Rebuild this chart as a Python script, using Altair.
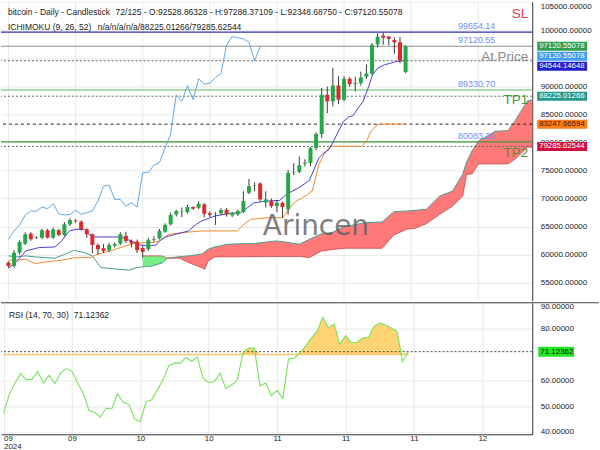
import altair as alt
import pandas as pd

# ---------------- data ----------------
opens = [58600, 58010, 60370, 61970, 63750, 63000, 63040, 64350, 63040, 64350,
         63520, 65410, 66100, 65880, 64530, 63640, 61740, 61160, 60800, 61600,
         61970, 63340, 62450, 62330, 61200, 61000, 62600, 62930, 64100, 65410,
         67190, 67700, 67600, 68480, 68360, 68950, 67400, 67100, 67370, 68010,
         67010, 67190, 67600, 71030, 72300, 72690, 69300, 69550, 68660, 69250,
         68080, 74570, 74750, 76200, 76350, 79010, 81500, 88490, 87300, 90140,
         87600, 91330, 90400, 90550, 91680, 92270, 97470, 99020, 98840, 98250,
         97830, 92528.86328]
highs = [58800, 60800, 62600, 64000, 64000, 63300, 64600, 64600, 64800, 64600,
         65800, 66500, 66300, 66100, 64700, 63800, 62000, 61900, 62100, 62200,
         64000, 64100, 62700, 62700, 61600, 63000, 63300, 64600, 65600, 67500,
         68000, 68400, 68900, 68600, 69500, 69200, 67700, 67600, 68300, 68300,
         67600, 68000, 71300, 73500, 72900, 72900, 71300, 70000, 69700, 69500,
         75100, 76300, 77500, 77000, 79200, 81800, 89700, 89950, 93300, 91800,
         91800, 91600, 91700, 92600, 93900, 97700, 99420, 99600, 99000, 98700,
         98800, 97288.37109]
lows = [57700, 57700, 60000, 61700, 62500, 62800, 62800, 62900, 62800, 63300,
        63300, 65100, 65700, 64300, 63000, 60300, 60000, 60300, 60500, 61300,
        61700, 62100, 61300, 60300, 59500, 60700, 62300, 62700, 63900, 65200,
        66800, 66700, 67300, 68000, 68100, 66600, 66700, 65300, 67100, 66800,
        66700, 66900, 67400, 70800, 71300, 69500, 68400, 68300, 67600, 66600,
        67100, 74200, 74500, 75700, 75800, 78600, 80800, 85200, 86400, 86800,
        87300, 89900, 89100, 90100, 91300, 92000, 96900, 97400, 97300, 95800,
        94100, 92348.68750]
closes = [58000, 60370, 62270, 63640, 62750, 63100, 64350, 63040, 64530, 63520,
          65410, 66180, 65950, 64530, 63640, 61740, 60970, 60680, 61740, 61900,
          63640, 62450, 62000, 60800, 60500, 62600, 62750, 64230, 65290, 67060,
          67780, 67750, 68480, 68200, 69070, 67290, 67100, 67150, 67950, 67190,
          67480, 67780, 69550, 72210, 72400, 69850, 69850, 68660, 69250, 68480,
          74570, 74650, 75940, 76400, 79010, 81500, 88490, 87300, 90140, 87600,
          91330, 90370, 90550, 91560, 92270, 97360, 98840, 98660, 98430, 97830,
          94520, 97120.55078]

rsi_values = [47.1, 54.5, 59.0, 62.6, 60.3, 60.5, 63.4, 59.0, 62.0, 58.7,
              62.8, 64.6, 63.6, 59.0, 55.0, 48.4, 47.6, 45.8, 49.2, 49.0,
              54.8, 51.5, 50.7, 45.0, 44.1, 51.7, 52.5, 56.4, 60.3, 65.7,
              66.7, 66.7, 68.9, 67.4, 69.0, 60.9, 59.2, 59.6, 62.8, 56.8,
              58.2, 60.0, 70.6, 72.5, 72.5, 57.9, 59.0, 54.0, 56.1, 53.0,
              68.3, 68.6, 70.8, 73.2, 76.4, 79.0, 84.5, 80.3, 81.9, 74.0,
              77.3, 74.7, 74.8, 76.4, 76.6, 80.9, 82.2, 81.5, 80.3, 79.0,
              67.4, 71.12362]

tenkan_i = [0, 1.3, 3.1, 5.4, 8.3, 9.5, 10.9, 12.1, 13.6, 14.4, 15.3, 20.0, 22.0, 23.5, 25.2,
            26.4, 27.0, 28.1, 29.9, 32.2, 33.4, 34.5, 36.9, 39.2, 41.5, 42.7, 43.9, 46.2, 48.5,
            49.7, 52.0, 53.8, 55.5, 56.4, 57.3, 58.1, 59.0, 59.9, 60.8, 61.6, 62.5, 63.4, 64.3,
            65.1, 66.0, 67.2, 68.3, 69.2, 70.1, 71]
tenkan_v = [57600, 58600, 60670, 61260, 61380, 62450, 64230, 64530, 64530, 63640, 63160, 63160,
            62450, 61740, 61560, 61740, 62450, 63160, 63640, 64230, 65290, 66000, 66890, 67300,
            67470, 68360, 69250, 69550, 69670, 70740, 72000, 73220, 77240, 78130, 78730, 80200,
            81980, 83750, 84520, 84760, 86110, 87300, 89660, 92040, 93210, 93810, 94100, 94400,
            94520, 94544.14648]

kijun_i = [0, 1.3, 3.1, 4.8, 7.1, 9.5, 11.8, 14.7, 15.9, 18.2, 20.0, 22.3, 24.0, 25.8, 27.0,
           28.7, 31.0, 34.5, 40.9, 42.1, 43.3, 46.2, 49.1, 50.3, 51.4, 52.6, 54.3, 55.5, 56.4,
           57.3, 57.8, 63.1, 64.0, 64.8, 66.0, 66.9, 71]
kijun_v = [59020, 59020, 59200, 58420, 58770, 59020, 59480, 59480, 60090, 60680, 61260, 61970,
           62150, 62150, 62450, 63640, 63920, 64230, 64230, 65410, 66300, 66580, 66580, 68360,
           69550, 70140, 71330, 76060, 77840, 79010, 79310, 79310, 80200, 81980, 83160,
           83247.66594, 83247.66594]

ichi_i = [0, 1.3, 3.1, 4.8, 8.3, 10.1, 11.8, 13.5, 15.0, 16.5, 19.4, 21.7, 22.9, 24.0, 25.8,
          27.5, 28.4, 29.3, 30.6, 32.2, 34.5, 35.1, 35.7, 36.9, 39.2, 41.5, 43.8, 46.2, 47.9,
          50.3, 52.0, 53.8, 56.0, 57.8, 59.6, 60.2, 63.7, 66.8, 68.9, 71.2, 72.7, 74.7, 77.1,
          79.4, 81.2, 81.9, 82.9, 84.0, 87.0, 89.3, 90.5, 92.8, 97]
senkou_a = [59790, 59610, 59790, 59610, 59380, 60090, 60800, 60370, 59790, 57710, 57430, 57250,
            57710, 57840, 58010, 58550, 59380, 59490, 59650, 59790, 60090, 60500, 60980, 61380,
            61860, 61970, 61970, 62270, 62450, 62150, 61860, 62750, 63700, 63920, 64810, 65000,
            65700, 65820, 67650, 67780, 67900, 68080, 70440, 71330, 74290, 76500, 78500, 80200,
            81980, 82100, 83750, 87400, 88225.01266]
senkou_b = [None] * 13 + [59790, 59790, 59790, 59380, 59380, 59380, 58600, 57710, 57430, 58900,
            59610, 59620, 59630, 59650, 59660, 59680, 59690, 59700, 59490, 60680, 60900, 61100,
            61150, 61150, 61150, 63520, 64530, 64700, 65520, 67190, 68660, 70440, 74290, 74400,
            76170, 76170, 76170, 76950, 79130, 79285.62544]
chikou_shift = 26

x_tick_values = [0, 12, 24, 36, 48, 60, 72, 84]
x_tick_labels = ["09", "09", "10", "10", "11", "11", "11", "12"]
year_label = "2024"
price_ticks = [55000, 60000, 65000, 70000, 75000, 80000, 85000, 90000, 95000, 100000, 105000]
price_hidden_labels = [95000]   # label covered by the price tags in the reference
rsi_ticks = [40, 50, 60, 80, 90]
rsi_upper = 70

level_values = [99654.14, 97120.55, 89330.70, 80083.26]
level_names = ["SL", "At.Price", "TP1", "TP2"]

title_main = "bitcoin - Daily - Candlestick"
title_ohlc = "72/125 - O:{:.5f} - H:{:.5f} - L:{:.5f} - C:{:.5f}".format(opens[-1], highs[-1], lows[-1], closes[-1])
title_ichi = "ICHIMOKU (9, 26, 52)"
title_ichi_vals = "n/a/n/a/n/a/{:.5f}/{:.5f}".format(senkou_a[-1], senkou_b[-1])
title_rsi = "RSI (14, 70, 30)"
watermark = "Arincen"

# ---------------- styling ----------------
FONT = "Liberation Sans"
W = 533
H_MAIN = 300
H_RSI = 132
X_DOMAIN = [-0.44, 92.75]
Y_DOMAIN = [51800, 105050]
RSI_DOMAIN = [39.1, 90.1]
GRID = "#e9e9e9"
GREEN = "#26a748"
RED = "#dc2a2e"

x_scale = alt.Scale(domain=X_DOMAIN, nice=False, zero=False)
y_scale = alt.Scale(domain=Y_DOMAIN, nice=False, zero=False)
r_scale = alt.Scale(domain=RSI_DOMAIN, nice=False, zero=False)

hide_expr = " || ".join("datum.value == {}".format(v) for v in price_hidden_labels)
main_y_axis = alt.Axis(orient="right", values=price_ticks, format=".5f",
                       labelExpr="({}) ? '' : datum.label".format(hide_expr),
                       labelFont=FONT, labelFontSize=8, labelColor="#222", ticks=False, domain=True,
                       domainColor="#333", labelPadding=8, grid=True, gridColor=GRID,
                       labelFlush=2, title=None)

expr = "datum.value == {} ? ['{}', '{}'] : ".format(x_tick_values[0], x_tick_labels[0], year_label)
for v, lab in zip(x_tick_values[1:], x_tick_labels[1:]):
    expr += "datum.value == {} ? '{}' : ".format(v, lab)
expr += "''"

rsi_x_axis = alt.Axis(values=x_tick_values, labelExpr=expr, labelFont=FONT, labelFontSize=8,
                      labelColor="#222", labelPadding=0, labelLineHeight=8.5, ticks=False,
                      domain=True, domainColor="#333", grid=True, gridColor=GRID,
                      labelFlush=4, title=None)
rsi_y_axis = alt.Axis(orient="right", values=rsi_ticks, format=".5f", labelFont=FONT,
                      labelFontSize=8, labelColor="#222", ticks=False, domain=True,
                      domainColor="#333", labelPadding=8, grid=True, gridColor=GRID,
                      labelFlush=2, title=None)


def mx(f):
    return alt.X(f, scale=x_scale, axis=None)


def my(f):
    return alt.Y(f, scale=y_scale, axis=main_y_axis)


def rx(f):
    return alt.X(f, scale=x_scale, axis=rsi_x_axis)


def ry(f):
    return alt.Y(f, scale=r_scale, axis=rsi_y_axis)


n = len(closes)
candles = pd.DataFrame({"i": list(range(n)), "o": opens, "h": highs, "l": lows, "c": closes})
candles["dir"] = ["up" if c >= o else "down" for o, c in zip(opens, closes)]

cloud = pd.DataFrame({"i": ichi_i, "a": senkou_a, "b": senkou_b})
cloud_b = cloud.dropna().reset_index(drop=True)
cross = cloud_b.loc[cloud_b["a"] >= cloud_b["b"], "i"].iloc[0]
cloud_green = cloud_b[cloud_b["i"] <= cross]
cloud_red = cloud_b[cloud_b["i"] >= cross]

tenkan = pd.DataFrame({"i": tenkan_i, "v": tenkan_v})
kijun = pd.DataFrame({"i": kijun_i, "v": kijun_v})
chikou = pd.DataFrame({"i": list(range(n - chikou_shift)), "v": closes[chikou_shift:]})

layers = []
# vertical grid
layers.append(alt.Chart(pd.DataFrame({"t": x_tick_values})).mark_rule(color=GRID, strokeWidth=1)
              .encode(x=mx("t:Q")))
# cloud
layers.append(alt.Chart(cloud_green).mark_area(color="#6fee7c", opacity=0.95, clip=True)
              .encode(x=mx("i:Q"), y=my("a:Q"), y2="b:Q"))
layers.append(alt.Chart(cloud_red).mark_area(color="#ff7272", opacity=0.95, clip=True)
              .encode(x=mx("i:Q"), y=my("a:Q"), y2="b:Q"))
layers.append(alt.Chart(cloud).mark_line(color="#4a9d8f", strokeWidth=1, clip=True)
              .encode(x=mx("i:Q"), y=my("a:Q")))
layers.append(alt.Chart(cloud_b).mark_line(color="#c24a4a", strokeWidth=0.8, clip=True)
              .encode(x=mx("i:Q"), y=my("b:Q")))

# level lines
level_colors = ["#2f2fa8", "#8e8e8e", "#62bb62", "#3f963f"]
for v, col in zip(level_values, level_colors):
    layers.append(alt.Chart(pd.DataFrame({"v": [v]})).mark_rule(color=col, strokeWidth=1.2)
                  .encode(y=my("v:Q")))
# dotted indicator lines
dot_specs = [(tenkan_v[-1], "#666", [2, 2]), (senkou_a[-1], "#666", [2, 2]),
             (kijun_v[-1], "#222", [3, 3]), (senkou_b[-1], "#666", [2, 2])]
for v, col, dash in dot_specs:
    layers.append(alt.Chart(pd.DataFrame({"v": [v]})).mark_rule(color=col, strokeWidth=1, strokeDash=dash)
                  .encode(y=my("v:Q")))

# ichimoku lines
layers.append(alt.Chart(chikou).mark_line(color="#5fa9ec", strokeWidth=1)
              .encode(x=mx("i:Q"), y=my("v:Q")))
layers.append(alt.Chart(kijun).mark_line(color="#f28b2c", strokeWidth=1)
              .encode(x=mx("i:Q"), y=my("v:Q")))
layers.append(alt.Chart(tenkan).mark_line(color="#4a40cf", strokeWidth=1)
              .encode(x=mx("i:Q"), y=my("v:Q")))

# candles
layers.append(alt.Chart(candles).mark_rule(color="#3a3a3a", strokeWidth=1)
              .encode(x=mx("i:Q"), y=my("l:Q"), y2="h:Q"))
layers.append(alt.Chart(candles).mark_bar(size=4)
              .encode(x=mx("i:Q"), y=my("o:Q"), y2="c:Q",
                      color=alt.Color("dir:N", scale=alt.Scale(domain=["up", "down"], range=[GREEN, RED]),
                                      legend=None)))

# level value labels
lv = pd.DataFrame({"v": level_values, "t": ["{:.2f}".format(v) for v in level_values]})
layers.append(alt.Chart(lv).mark_text(align="right", baseline="bottom", dy=-1, fontSize=9,
                                      font=FONT, color="#6f8ef2")
              .encode(x=alt.value(496), y=my("v:Q"), text="t:N"))

# signal names
name_colors = ["#e83a4c", "#8a8a8a", "#3c9a3c", "#5b8c3a"]
name_dy = [-18, 10.5, 10.5, 11]
for v, name, col, d in zip(level_values, level_names, name_colors, name_dy):
    layers.append(alt.Chart(pd.DataFrame({"v": [v], "t": [name]}))
                  .mark_text(align="right", baseline="middle", dy=d, fontSize=13.5, font=FONT, color=col)
                  .encode(x=alt.value(529), y=my("v:Q"), text="t:N"))

# watermark
layers.append(alt.Chart(pd.DataFrame({"t": [watermark]}))
              .mark_text(fontSize=28, font="DejaVu Sans", color="#5e5e5e", opacity=0.8,
                         align="center", baseline="middle")
              .encode(x=alt.value(316), y=alt.value(226), text="t:N"))

# header texts
for txt, xp, yp in [(title_main, 7, 10.5), (title_ohlc, 115, 10.5),
                    (title_ichi, 7, 25), (title_ichi_vals, 97, 25)]:
    layers.append(alt.Chart(pd.DataFrame({"t": [txt]}))
                  .mark_text(align="left", baseline="middle", fontSize=8.5, font=FONT, color="#222")
                  .encode(x=alt.value(xp), y=alt.value(yp), text="t:N"))

# right axis tags
tag_specs = [(closes[-1], "#2f9e52", "white", 0),
             (closes[-1], "#3f9cf3", "white", 10),
             (tenkan_v[-1], "#2020cc", "white", 5.5),
             (senkou_a[-1], "#24998c", "white", 0),
             (kijun_v[-1], "#ff7b14", "#3a2000", 0),
             (senkou_b[-1], "#d0113f", "white", 0)]
for v, bg, fg, d in tag_specs:
    tdf = pd.DataFrame({"v": [v], "t": ["{:.5f}".format(v)]})
    layers.append(alt.Chart(tdf).mark_rect(color=bg, yOffset=d - 4.5, y2Offset=d + 4.5)
                  .encode(x=alt.value(538), x2=alt.value(588), y=my("v:Q"), y2="v:Q"))
    layers.append(alt.Chart(tdf).mark_text(align="left", baseline="middle", dy=d, fontSize=7.8,
                                           font=FONT, color=fg)
                  .encode(x=alt.value(540), y=my("v:Q"), text="t:N"))

main = alt.layer(*layers).properties(width=W, height=H_MAIN)

# ---------------- RSI panel ----------------
rsi_df = pd.DataFrame({"i": list(range(n)), "r": rsi_values})
r_layers = []
r_layers.append(alt.Chart(rsi_df).transform_calculate(top="max(datum.r, {})".format(rsi_upper))
                .mark_area(color="#ffcb5c", opacity=0.85)
                .encode(x=rx("i:Q"), y=ry("top:Q"), y2=alt.datum(rsi_upper)))
r_layers.append(alt.Chart(pd.DataFrame({"a": [0], "b": [n - 1], "y": [rsi_upper]}))
                .mark_rule(color="#f6c872", strokeWidth=1.5)
                .encode(x=rx("a:Q"), x2="b:Q", y=ry("y:Q")))
r_layers.append(alt.Chart(pd.DataFrame({"y": [rsi_values[-1]]}))
                .mark_rule(color="#444", strokeWidth=1, strokeDash=[2, 2])
                .encode(y=ry("y:Q")))
r_layers.append(alt.Chart(rsi_df).mark_line(color="#76e45a", strokeWidth=1.1)
                .encode(x=rx("i:Q"), y=ry("r:Q")))
r_layers.append(alt.Chart(pd.DataFrame({"t": [0]})).mark_rule(color="#444", strokeWidth=1)
                .encode(x=alt.value(0), x2=alt.value(600), y=alt.value(0)))
r_layers.append(alt.Chart(pd.DataFrame({"t": [title_rsi]}))
                .mark_text(align="left", baseline="middle", fontSize=8.5, font=FONT, color="#222")
                .encode(x=alt.value(8), y=alt.value(12), text="t:N"))
r_layers.append(alt.Chart(pd.DataFrame({"t": ["{:.5f}".format(rsi_values[-1])]}))
                .mark_text(align="left", baseline="middle", fontSize=8.5, font=FONT, color="#222")
                .encode(x=alt.value(73), y=alt.value(12), text="t:N"))
rt = pd.DataFrame({"v": [rsi_values[-1]], "t": ["{:.5f}".format(rsi_values[-1])]})
r_layers.append(alt.Chart(rt).mark_rect(color="#22e822", yOffset=-5, y2Offset=5)
                .encode(x=alt.value(539), x2=alt.value(575), y=ry("v:Q"), y2="v:Q"))
r_layers.append(alt.Chart(rt).mark_text(align="left", baseline="middle", fontSize=8, font=FONT, color="#111")
                .encode(x=alt.value(541), y=ry("v:Q"), text="t:N"))

rsi_chart = alt.layer(*r_layers).properties(width=W, height=H_RSI)

chart = (alt.vconcat(main, rsi_chart, spacing=0)
         .properties(padding=0)
         .configure(font=FONT)
         .configure_view(stroke=None))

chart.save("out.html", embed_options={"renderer": "svg", "actions": False})
